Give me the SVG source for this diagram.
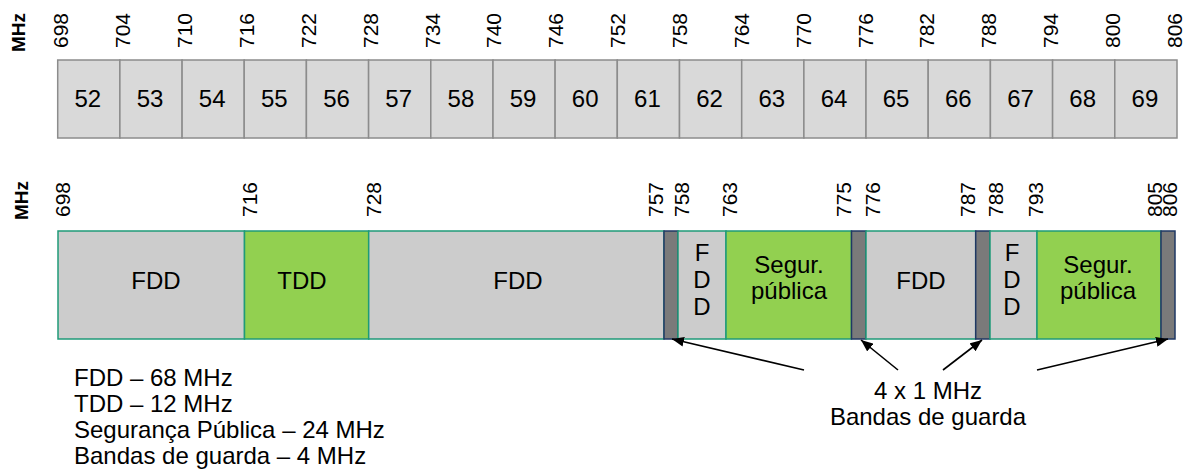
<svg xmlns="http://www.w3.org/2000/svg" width="1190" height="472" viewBox="0 0 1190 472">
<style>
text{font-family:"Liberation Sans",Arial,sans-serif;fill:#000}
.ch{fill:#d9d9d9;stroke:#8c8c8c;stroke-width:1.5}
.num{font-size:24px;text-anchor:middle}
.fq{font-size:21px}
.mhz{font-size:19px;font-weight:bold}
.fdd{fill:#cccccc;stroke:#1f9a78;stroke-width:1.5}
.grn{fill:#92d050;stroke:#1f9a78;stroke-width:1.5}
.gb{fill:#7a7a7a;stroke:#1f3864;stroke-width:1.5}
.lbl{font-size:24px;text-anchor:middle}
.leg{font-size:24px}
.arr{stroke:#000;stroke-width:1.6;fill:none;marker-end:url(#ah)}
</style>
<defs>
<marker id="ah" viewBox="0 0 12 10" refX="12" refY="5" markerWidth="12" markerHeight="10" markerUnits="userSpaceOnUse" orient="auto">
<path d="M0,0 L12,5 L0,10 z" fill="#000"/>
</marker>
</defs>

<g id="top-scale">
<text class="mhz" transform="translate(25,52) rotate(-90)">MHz</text>
<text class="fq" transform="translate(68.3,48) rotate(-90)">698</text>
<text class="fq" transform="translate(130.2,48) rotate(-90)">704</text>
<text class="fq" transform="translate(192,48) rotate(-90)">710</text>
<text class="fq" transform="translate(253.9,48) rotate(-90)">716</text>
<text class="fq" transform="translate(315.7,48) rotate(-90)">722</text>
<text class="fq" transform="translate(377.6,48) rotate(-90)">728</text>
<text class="fq" transform="translate(439.5,48) rotate(-90)">734</text>
<text class="fq" transform="translate(501.3,48) rotate(-90)">740</text>
<text class="fq" transform="translate(563.2,48) rotate(-90)">746</text>
<text class="fq" transform="translate(625,48) rotate(-90)">752</text>
<text class="fq" transform="translate(686.9,48) rotate(-90)">758</text>
<text class="fq" transform="translate(748.8,48) rotate(-90)">764</text>
<text class="fq" transform="translate(810.6,48) rotate(-90)">770</text>
<text class="fq" transform="translate(872.5,48) rotate(-90)">776</text>
<text class="fq" transform="translate(934.3,48) rotate(-90)">782</text>
<text class="fq" transform="translate(996.2,48) rotate(-90)">788</text>
<text class="fq" transform="translate(1058.1,48) rotate(-90)">794</text>
<text class="fq" transform="translate(1119.9,48) rotate(-90)">800</text>
<text class="fq" transform="translate(1181.8,48) rotate(-90)">806</text>
</g>

<g id="channels">
<rect class="ch" x="57.7" y="60" width="62.2" height="78"/><text class="num" x="87.8" y="107">52</text>
<rect class="ch" x="119.9" y="60" width="62.2" height="78"/><text class="num" x="150" y="107">53</text>
<rect class="ch" x="182.1" y="60" width="62.2" height="78"/><text class="num" x="212.2" y="107">54</text>
<rect class="ch" x="244.2" y="60" width="62.2" height="78"/><text class="num" x="274.3" y="107">55</text>
<rect class="ch" x="306.4" y="60" width="62.2" height="78"/><text class="num" x="336.5" y="107">56</text>
<rect class="ch" x="368.6" y="60" width="62.2" height="78"/><text class="num" x="398.7" y="107">57</text>
<rect class="ch" x="430.8" y="60" width="62.2" height="78"/><text class="num" x="460.9" y="107">58</text>
<rect class="ch" x="493" y="60" width="62.2" height="78"/><text class="num" x="523.1" y="107">59</text>
<rect class="ch" x="555.1" y="60" width="62.2" height="78"/><text class="num" x="585.2" y="107">60</text>
<rect class="ch" x="617.3" y="60" width="62.2" height="78"/><text class="num" x="647.4" y="107">61</text>
<rect class="ch" x="679.5" y="60" width="62.2" height="78"/><text class="num" x="709.6" y="107">62</text>
<rect class="ch" x="741.7" y="60" width="62.2" height="78"/><text class="num" x="771.8" y="107">63</text>
<rect class="ch" x="803.9" y="60" width="62.2" height="78"/><text class="num" x="834" y="107">64</text>
<rect class="ch" x="866" y="60" width="62.2" height="78"/><text class="num" x="896.1" y="107">65</text>
<rect class="ch" x="928.2" y="60" width="62.2" height="78"/><text class="num" x="958.3" y="107">66</text>
<rect class="ch" x="990.4" y="60" width="62.2" height="78"/><text class="num" x="1020.5" y="107">67</text>
<rect class="ch" x="1052.6" y="60" width="62.2" height="78"/><text class="num" x="1082.7" y="107">68</text>
<rect class="ch" x="1114.8" y="60" width="62.2" height="78"/><text class="num" x="1144.9" y="107">69</text>
</g>

<g id="bottom-scale">
<text class="mhz" transform="translate(28.3,220) rotate(-90)">MHz</text>
<text class="fq" transform="translate(70,217) rotate(-90)">698</text>
<text class="fq" transform="translate(256.7,217) rotate(-90)">716</text>
<text class="fq" transform="translate(380.5,217) rotate(-90)">728</text>
<text class="fq" transform="translate(663.3,217) rotate(-90)">757</text>
<text class="fq" transform="translate(689.3,217) rotate(-90)">758</text>
<text class="fq" transform="translate(736.7,217) rotate(-90)">763</text>
<text class="fq" transform="translate(850.7,217) rotate(-90)">775</text>
<text class="fq" transform="translate(880,217) rotate(-90)">776</text>
<text class="fq" transform="translate(975,217) rotate(-90)">787</text>
<text class="fq" transform="translate(1003.3,217) rotate(-90)">788</text>
<text class="fq" transform="translate(1043,217) rotate(-90)">793</text>
<text class="fq" transform="translate(1161.7,217) rotate(-90)">805</text>
<text class="fq" transform="translate(1176.7,217) rotate(-90)">806</text>
</g>

<g id="fdd1"><rect class="fdd" x="58" y="231" width="186.5" height="108"/><text class="lbl" x="156" y="289">FDD</text></g>
<g id="tdd"><rect class="grn" x="244.5" y="231" width="124.2" height="108"/><text class="lbl" x="302" y="289">TDD</text></g>
<g id="fdd2"><rect class="fdd" x="368.7" y="231" width="295.3" height="108"/><text class="lbl" x="518" y="289">FDD</text></g>
<g id="guard1"><rect class="gb" x="664" y="231" width="14" height="108"/></g>
<g id="fdd3"><rect class="fdd" x="678" y="231" width="48" height="108"/>
<text class="lbl" x="702" y="261">F</text><text class="lbl" x="702" y="288">D</text><text class="lbl" x="702" y="315">D</text></g>
<g id="seg1"><rect class="grn" x="726" y="231" width="125.5" height="108"/>
<text class="lbl" x="789" y="273">Segur.</text><text class="lbl" x="789" y="299">pública</text></g>
<g id="guard2"><rect class="gb" x="851.5" y="231" width="14.5" height="108"/></g>
<g id="fdd4"><rect class="fdd" x="866" y="231" width="109.7" height="108"/><text class="lbl" x="921" y="289">FDD</text></g>
<g id="guard3"><rect class="gb" x="975.7" y="231" width="14.3" height="108"/></g>
<g id="fdd5"><rect class="fdd" x="990" y="231" width="47" height="108"/>
<text class="lbl" x="1012" y="261">F</text><text class="lbl" x="1012" y="288">D</text><text class="lbl" x="1012" y="315">D</text></g>
<g id="seg2"><rect class="grn" x="1037" y="231" width="124" height="108"/>
<text class="lbl" x="1098" y="273">Segur.</text><text class="lbl" x="1098" y="299">pública</text></g>
<g id="guard4"><rect class="gb" x="1161" y="231" width="14" height="108"/></g>

<g id="connectors">
<line class="arr" x1="804" y1="370" x2="672" y2="339"/>
<line class="arr" x1="898" y1="370" x2="861" y2="340"/>
<line class="arr" x1="943" y1="370" x2="982" y2="340"/>
<line class="arr" x1="1037" y1="370" x2="1168" y2="339"/>
</g>

<g id="guard-label">
<text class="lbl" x="928" y="399">4 x 1 MHz</text>
<text class="lbl" x="928" y="425">Bandas de guarda</text>
</g>

<g id="legend">
<text class="leg" x="74" y="386">FDD – 68 MHz</text>
<text class="leg" x="74" y="412">TDD – 12 MHz</text>
<text class="leg" x="74" y="438">Segurança Pública – 24 MHz</text>
<text class="leg" x="74" y="464">Bandas de guarda – 4 MHz</text>
</g>
</svg>
